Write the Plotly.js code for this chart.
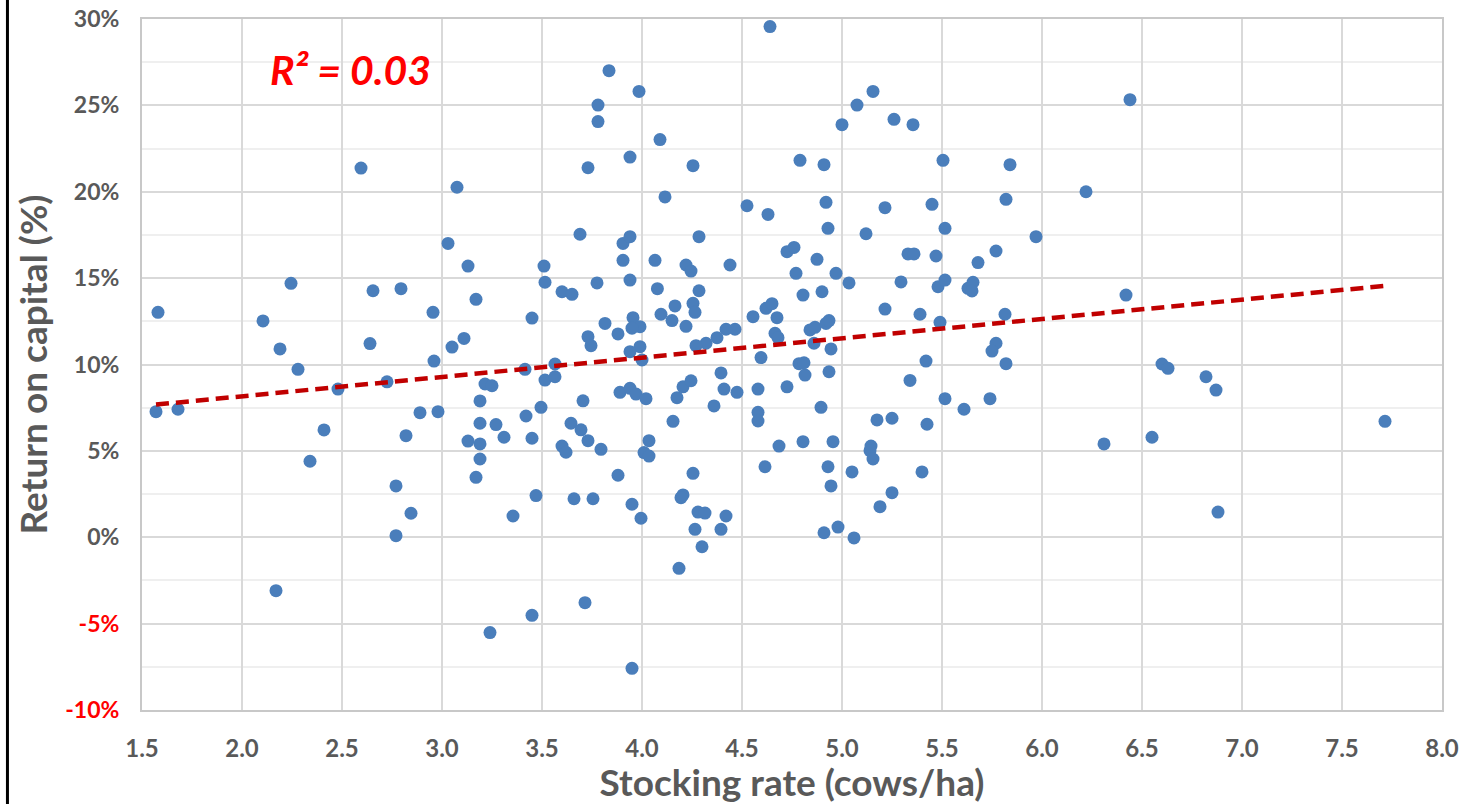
<!DOCTYPE html>
<html>
<head>
<meta charset="utf-8">
<script src="https://cdn.plot.ly/plotly-3.0.1.min.js"></script>
<style>
  html, body { margin: 0; padding: 0; background: #ffffff; }
  #chart { width: 1475px; height: 804px; }
</style>
</head>
<body>
<div id="chart"></div>
<script>
// Stocking rate (cows/ha) and return on capital (%) for each farm
const stockingRate = [
  1.58, 2.105, 2.245, 2.19, 2.595, 3.075, 3.03, 3.13, 2.655, 2.795, 2.955, 3.17, 2.64, 3.05, 3.11, 3.45, 3.51, 3.515, 3.60, 3.65, 3.69, 2.96,
  1.57, 1.68, 2.28, 2.41, 2.34, 2.48, 2.17, 2.725, 2.89, 2.98, 2.82, 2.77, 2.845, 2.77, 3.215, 3.25, 3.19, 3.19, 3.27, 3.13, 3.19, 3.31, 3.19, 3.17, 3.355, 3.24, 3.45, 3.415, 3.515, 3.565, 3.565, 3.42, 3.495, 3.45, 3.47, 3.645, 3.60, 3.62, 3.66,
  3.705, 3.695, 3.73, 3.795, 3.755, 3.715, 3.89, 3.94, 3.97, 4.02, 4.035, 4.01, 4.035, 3.88, 3.95, 3.995, 3.95, 4.175, 4.205, 4.245, 4.155, 4.395, 4.41, 4.36, 4.475, 4.255, 4.205, 4.195, 4.28, 4.315, 4.42, 4.265, 4.395, 4.30, 4.185, 4.58, 4.58, 4.58, 4.725, 4.815, 4.935, 4.895, 4.685, 4.805, 4.955, 4.615, 4.93, 5.05, 4.945, 4.91, 4.98, 5.06, 5.175, 5.25, 5.145, 5.14, 5.155, 5.34, 5.515, 5.61, 5.74, 5.425, 5.40, 5.25, 5.19,
  4.64, 3.835, 3.985, 3.78, 3.78, 3.73, 3.94, 4.09, 4.255, 4.115, 3.905, 3.94, 3.905, 4.065, 3.94, 3.775, 4.077, 4.285, 4.22, 4.245, 4.285, 4.44, 4.525, 4.63, 4.79, 4.91, 5.0, 5.075, 5.155, 5.26, 5.355, 5.505, 5.84, 4.92, 4.93, 5.215, 5.45, 5.82, 5.515, 5.12, 4.725, 4.76, 4.875, 4.77, 4.97, 4.805, 4.90, 5.035, 5.33, 5.36, 5.47, 5.295, 5.48, 5.515, 5.68, 5.77, 5.63, 5.655, 5.65, 5.815, 5.39, 5.215, 5.49, 5.77, 5.75, 5.42, 5.82,
  4.555, 4.62, 4.65, 4.675, 4.665, 4.68, 4.595, 4.785, 4.81, 4.84, 4.865, 4.86, 4.92, 4.935, 4.945, 4.42, 4.465, 4.375, 4.32, 4.27, 4.0, 3.99, 3.94, 3.955, 3.99, 3.95, 3.815, 3.73, 3.745, 3.88, 4.095, 4.15, 4.165, 4.22, 4.255, 4.265,
  6.44, 6.22, 5.97, 6.42,
  6.60, 6.63, 6.82, 6.87, 6.31, 6.55, 6.88, 7.715
];
const returnOnCapital = [
  13.02, 12.52, 14.70, 10.90, 21.37, 20.26, 17.01, 15.70, 14.27, 14.39, 13.02, 13.77, 11.21, 11.01, 11.51, 12.69, 15.70, 14.76, 14.21, 14.06, 17.54, 10.2,
  7.27, 7.41, 9.72, 6.21, 4.40, 8.58, -3.09, 9.0, 7.21, 7.27, 5.88, 2.97, 1.39, 0.09, 8.87, 8.77, 7.89, 6.60, 6.52, 5.57, 5.40, 5.79, 4.53, 3.47, 1.23, -5.52, -4.52, 9.72, 9.10, 9.29, 10.03, 7.02, 7.52, 5.73, 2.41, 6.60, 5.28, 4.92, 2.23,
  7.90, 6.22, 5.59, 5.09, 2.23, -3.79, 8.39, 8.62, 8.29, 8.02, 5.59, 4.90, 4.70, 3.59, 1.91, 1.10, -7.59, 8.08, 8.71, 9.06, 6.71, 9.51, 8.58, 7.60, 8.39, 3.70, 2.45, 2.29, 1.46, 1.40, 1.23, 0.46, 0.46, -0.55, -1.80, 8.58, 7.23, 6.73, 8.71, 9.39, 9.58, 7.52, 5.28, 5.53, 5.53, 4.08, 4.08, 3.78, 2.97, 0.26, 0.59, -0.04, 6.79, 6.89, 5.28, 5.01, 4.53, 9.08, 8.02, 7.41, 8.02, 6.54, 3.78, 2.58, 1.77,
  29.56, 27.01, 25.81, 25.02, 24.06, 21.39, 22.01, 23.02, 21.51, 19.70, 17.01, 17.40, 16.03, 16.03, 14.89, 14.72, 14.39, 17.40, 15.76, 15.41, 14.27, 15.76, 19.19, 18.69, 21.82, 21.57, 23.88, 25.02, 25.81, 24.19, 23.88, 21.82, 21.57, 19.39, 17.88, 19.08, 19.27, 19.56, 17.88, 17.57, 16.53, 16.78, 16.09, 15.28, 15.28, 14.02, 14.21, 14.72, 16.40, 16.40, 16.28, 14.78, 14.50, 14.89, 15.90, 16.57, 14.41, 14.76, 14.26, 12.91, 12.91, 13.21, 12.44, 11.23, 10.78, 10.2, 10.05,
  12.77, 13.25, 13.52, 12.71, 11.81, 11.55, 10.4, 10.05, 10.1, 12.0, 12.15, 11.23, 12.38, 12.54, 10.90, 12.04, 12.04, 11.55, 11.23, 11.09, 10.26, 11.03, 10.74, 12.71, 12.19, 12.10, 12.38, 11.61, 11.09, 11.77, 12.91, 12.54, 13.39, 12.21, 13.54, 13.02,
  25.33, 20.0, 17.40, 14.02,
  10.03, 9.78, 9.29, 8.52, 5.40, 5.79, 1.46, 6.71
];
// Linear trend line end points
const trendX = [1.57, 7.72];
const trendY = [7.68, 14.56];
const rSquaredLabel = 'R² = 0.03';
// Axis ticks
const xTicks = [1.5, 2.0, 2.5, 3.0, 3.5, 4.0, 4.5, 5.0, 5.5, 6.0, 6.5, 7.0, 7.5, 8.0];
const yTicks = [-10, -5, 0, 5, 10, 15, 20, 25, 30];
const yMinorTicks = [-7.5, -2.5, 2.5, 7.5, 12.5, 17.5, 22.5, 27.5];
const xTitle = 'Stocking rate (cows/ha)';
const yTitle = 'Return on capital (%)';

const yTickText = yTicks.map(v => v < 0 ? '<span style="color:#ff0000">' + v + '%</span>' : v + '%');
const xTickText = xTicks.map(v => v.toFixed(1));

const FONT = 'Lato, "Open Sans", sans-serif';
const GREY = '#595959';

const traces = [
  {
    type: 'scatter', mode: 'markers',
    x: stockingRate, y: returnOnCapital,
    marker: { color: '#4a7ebb', size: 13, line: { width: 0 } },
    hoverinfo: 'x+y', showlegend: false
  },
  {
    type: 'scatter', mode: 'lines',
    x: trendX, y: trendY,
    line: { color: '#c00000', width: 4.5, dash: '13px,7px' },
    hoverinfo: 'skip', showlegend: false
  }
];

const layout = {
  width: 1475, height: 804,
  margin: { l: 142, r: 33, t: 19, b: 94, pad: 0 },
  paper_bgcolor: '#ffffff', plot_bgcolor: '#ffffff',
  font: { family: FONT, color: GREY },
  showlegend: false,
  xaxis: {
    range: [1.5, 8.0], tickmode: 'array', tickvals: xTicks, ticktext: xTickText,
    showgrid: true, gridcolor: '#d9d9d9', gridwidth: 1.5,
    zeroline: false, showline: true, linecolor: '#c8c8c8', linewidth: 2, mirror: true,
    ticks: '', ticklabelstandoff: 16,
    tickfont: { family: FONT, size: 24, color: GREY, weight: 'bold' },
    title: { text: xTitle, font: { family: FONT, size: 37, color: GREY, weight: 'bold' }, standoff: 2 }
  },
  yaxis: {
    range: [-10, 30], tickmode: 'array', tickvals: yTicks, ticktext: yTickText,
    showgrid: true, gridcolor: '#d9d9d9', gridwidth: 1.5,
    minor: { tickmode: 'array', tickvals: yMinorTicks, showgrid: true, gridcolor: '#efefef', gridwidth: 1.5, ticks: '' },
    zeroline: false, showline: true, linecolor: '#c8c8c8', linewidth: 2, mirror: true,
    ticks: '', ticklabelstandoff: 16,
    tickfont: { family: FONT, size: 23, color: GREY, weight: 'bold' },
    title: { text: yTitle, font: { family: FONT, size: 37, color: GREY, weight: 'bold' }, standoff: 6 }
  },
  annotations: [
    {
      xref: 'x', yref: 'y', x: 2.54, y: 27.1, text: '<b><i>' + rSquaredLabel + '</i></b>',
      showarrow: false, font: { family: FONT, size: 41, color: '#ff0000' }
    }
  ],
  shapes: [
    { type: 'line', xref: 'paper', yref: 'paper', x0: -0.1035, x1: -0.1035, y0: -0.14, y1: 1.03,
      line: { color: '#000000', width: 3 } }
  ]
};

Plotly.newPlot('chart', traces, layout, { displayModeBar: false, responsive: false });
</script>
</body>
</html>
